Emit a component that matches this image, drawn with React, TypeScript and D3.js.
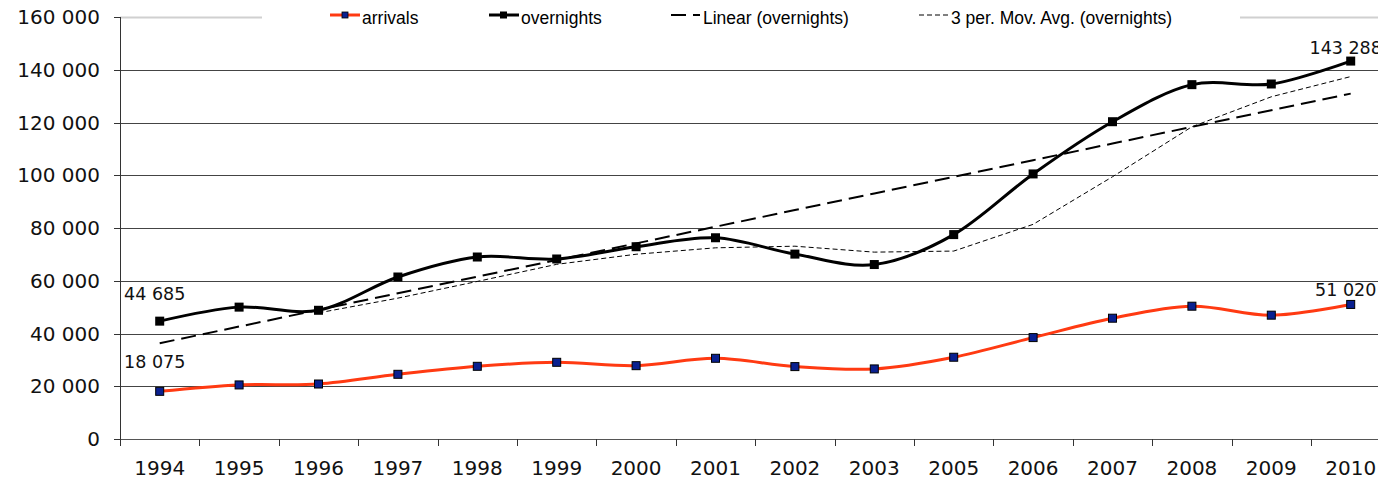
import * as d3 from "d3";

const years = ["1994", "1995", "1996", "1997", "1998", "1999", "2000", "2001", "2002", "2003", "2005", "2006", "2007", "2008", "2009", "2010"];
const arrivals = [18075, 20500, 20850, 24530, 27560, 29080, 27800, 30600, 27450, 26570, 31000, 38450, 45800, 50350, 46950, 51020];
const overnights = [44685, 50000, 48800, 61420, 69000, 68250, 72900, 76300, 70100, 66150, 77500, 100500, 120300, 134350, 134600, 143288];
const yTicks = [0, 20000, 40000, 60000, 80000, 100000, 120000, 140000, 160000];

const W = 1378;
const H = 480;
const left = 120;
const bandW = 79.4;
const top = 17;
const bottom = 439;

const fmt = (v: number) => d3.format(",")(v).replace(/,/g, " ");

export default function App() {
  const x = d3
    .scaleBand<string>()
    .domain(years)
    .range([left, left + bandW * years.length]);
  const y = d3.scaleLinear().domain([0, 160000]).range([bottom, top]);
  const cx = (i: number) => (x(years[i]) ?? 0) + x.bandwidth() / 2;

  // linear trend of overnights (x = 1..n)
  const n = overnights.length;
  const xs = overnights.map((_, i) => i + 1);
  const mx = d3.mean(xs)!;
  const my = d3.mean(overnights)!;
  const slope =
    d3.sum(xs, (xi, i) => (xi - mx) * (overnights[i] - my)) /
    d3.sum(xs, (xi) => (xi - mx) ** 2);
  const icpt = my - slope * mx;
  const trend = xs.map((xi) => icpt + slope * xi);

  // 3 period moving average
  const mavg = overnights
    .map((_, i) => (i < 2 ? null : (overnights[i] + overnights[i - 1] + overnights[i - 2]) / 3))
    .map((v, i) => ({ v, i }))
    .filter((d) => d.v !== null) as { v: number; i: number }[];

  const smooth = d3
    .line<number>()
    .x((_, i) => cx(i))
    .y((d) => y(d))
    .curve(d3.curveCatmullRom.alpha(0));
  const straight = d3
    .line<number>()
    .x((_, i) => cx(i))
    .y((d) => y(d));
  const maLine = d3
    .line<{ v: number; i: number }>()
    .x((d) => cx(d.i))
    .y((d) => y(d.v));

  const axisFont = "'DejaVu Sans', Verdana, sans-serif";
  const legFont = "'Liberation Sans', Arial, sans-serif";
  const legY = 15;

  return (
    <svg
      width={W}
      height={H}
      style={{ position: "absolute", left: 0, top: 0, background: "#fff" }}
    >
      {/* gridlines */}
      {yTicks.map((t) => (
        <line
          key={t}
          x1={left}
          x2={W}
          y1={Math.round(y(t)) + 0.5}
          y2={Math.round(y(t)) + 0.5}
          stroke={t === 160000 ? "#d0d0d0" : t === 0 ? "#555" : "#444"}
          strokeWidth={t === 160000 ? 2 : 1}
        />
      ))}
      {/* y axis */}
      <line x1={left + 0.5} x2={left + 0.5} y1={top} y2={bottom + 6} stroke="#333" />
      {yTicks.map((t) => (
        <g key={"yt" + t}>
          <line x1={left - 6} x2={left} y1={Math.round(y(t)) + 0.5} y2={Math.round(y(t)) + 0.5} stroke="#333" />
          <text
            x={100}
            y={y(t)}
            dy="0.36em"
            textAnchor="end"
            fontFamily={axisFont}
            fontSize={20}
            fill="#111"
          >
            {fmt(t)}
          </text>
        </g>
      ))}
      {/* x ticks and labels */}
      {years.map((yr, i) => (
        <g key={yr}>
          <line
            x1={Math.round(x(yr)!) + 0.5}
            x2={Math.round(x(yr)!) + 0.5}
            y1={bottom}
            y2={bottom + 7}
            stroke="#333"
          />
          <text
            x={cx(i)}
            y={475}
            textAnchor="middle"
            fontFamily={axisFont}
            fontSize={20}
            fill="#111"
          >
            {yr}
          </text>
        </g>
      ))}

      {/* trend and moving average */}
      <path d={straight(trend)!} fill="none" stroke="#000" strokeWidth={2} strokeDasharray="15,7" />
      <path d={maLine(mavg)!} fill="none" stroke="#000" strokeWidth={1} strokeDasharray="5,3" />

      {/* series */}
      <path d={smooth(overnights)!} fill="none" stroke="#000" strokeWidth={3} />
      <path d={smooth(arrivals)!} fill="none" stroke="#ff3a12" strokeWidth={3} />
      {overnights.map((v, i) => (
        <rect key={"o" + i} x={cx(i) - 4.5} y={y(v) - 4.5} width={9} height={9} fill="#000" />
      ))}
      {arrivals.map((v, i) => (
        <rect
          key={"a" + i}
          x={cx(i) - 4}
          y={y(v) - 4}
          width={8}
          height={8}
          fill="#0a2090"
          stroke="#000"
          strokeWidth={1}
        />
      ))}

      {/* data labels */}
      {[
        { i: 0, v: overnights[0], dy: -21 },
        { i: 0, v: arrivals[0], dy: -23 },
        { i: n - 1, v: overnights[n - 1], dy: -7 },
        { i: n - 1, v: arrivals[n - 1], dy: -8 },
      ].map((d, k) => (
        <text
          key={"l" + k}
          x={cx(d.i) - 5}
          y={y(d.v) + d.dy}
          textAnchor="middle"
          fontFamily={axisFont}
          fontSize={17.5}
          fill="#111"
        >
          {fmt(d.v)}
        </text>
      ))}

      {/* legend */}
      <rect x={262} y={4} width={978} height={24} fill="#fff" />
      <line x1={330} x2={360} y1={legY} y2={legY} stroke="#ff3a12" strokeWidth={3} />
      <rect x={342} y={legY - 3} width={6} height={6} fill="#0a2090" stroke="#000" strokeWidth={0.8} />
      <text x={362} y={24} fontFamily={legFont} fontSize={17.5} fill="#000">arrivals</text>

      <line x1={489} x2={519} y1={legY} y2={legY} stroke="#000" strokeWidth={3} />
      <rect x={500} y={legY - 3.5} width={7} height={7} fill="#000" />
      <text x={521} y={24} fontFamily={legFont} fontSize={17.5} fill="#000">overnights</text>

      <line x1={671} x2={700} y1={legY} y2={legY} stroke="#000" strokeWidth={2} strokeDasharray="15,7" />
      <text x={703} y={24} fontFamily={legFont} fontSize={17.5} fill="#000">Linear (overnights)</text>

      <line x1={919} x2={948} y1={legY} y2={legY} stroke="#000" strokeWidth={1} strokeDasharray="5,3" />
      <text x={951} y={24} fontFamily={legFont} fontSize={17.5} fill="#000">3 per. Mov. Avg. (overnights)</text>
    </svg>
  );
}
